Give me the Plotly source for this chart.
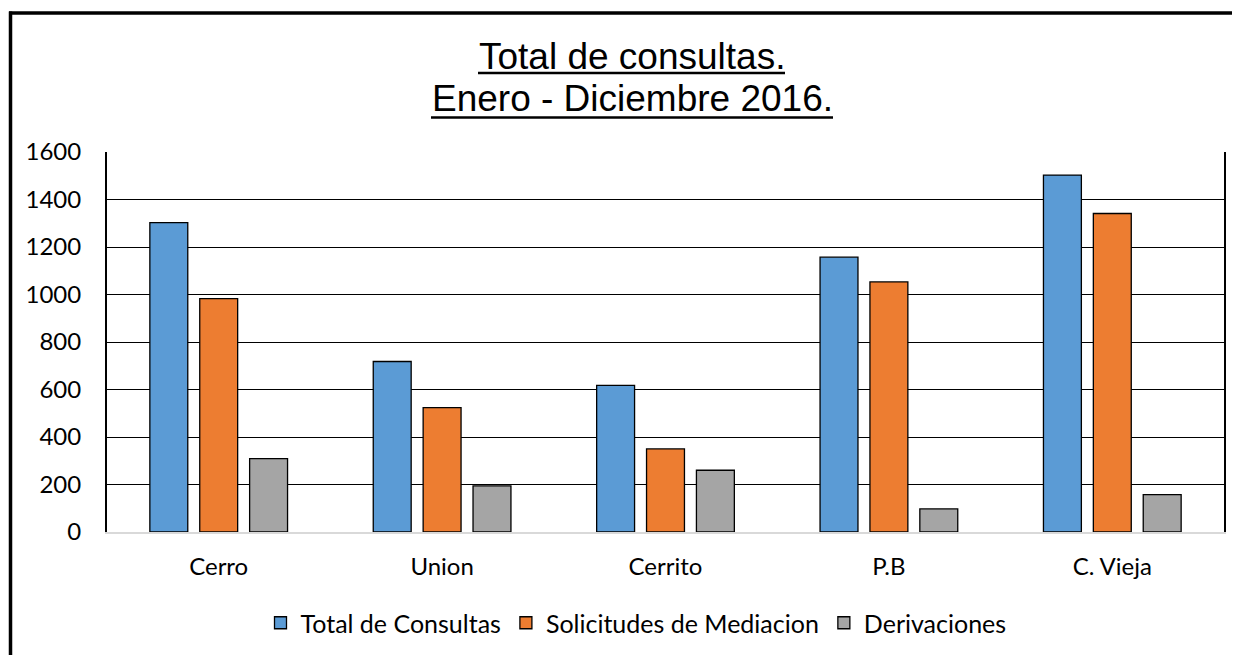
import plotly.graph_objects as go

categories = ["Cerro", "Union", "Cerrito", "P.B", "C. Vieja"]
total_consultas = [1303, 718, 617, 1157, 1503]
solicitudes_mediacion = [983, 524, 350, 1053, 1341]
derivaciones = [309, 194, 260, 97, 157]
y_ticks = [0, 200, 400, 600, 800, 1000, 1200, 1400, 1600]

series = [
    ("Total de Consultas", total_consultas, "#5B9BD5"),
    ("Solicitudes de Mediacion", solicitudes_mediacion, "#ED7D31"),
    ("Derivaciones", derivaciones, "#A5A5A5"),
]

fig = go.Figure()
for name, vals, color in series:
    fig.add_trace(go.Bar(
        x=categories, y=vals, name=name,
        marker=dict(color=color, line=dict(color="black", width=1.3)),
    ))

# page offset of the figure (body margin) and plot area in page pixels
OFF = 8
FW, FH = 1240 - OFF, 655 - OFF
L, R, T, B = 107, 1224, 152, 532
W, H = R - L, B - T

def px(x):
    return (x - L) / W

def py(y):
    return (B - y) / H

fig.update_layout(
    width=FW, height=FH,
    margin=dict(l=L - OFF, r=1240 - R, t=T - OFF, b=655 - B, autoexpand=False),
    paper_bgcolor="white", plot_bgcolor="white",
    barmode="group", bargap=0.33, bargroupgap=0.24,
    font=dict(family="Lato", size=24, color="black"),
    showlegend=True,
    legend=dict(
        orientation="h",
        xref="container", yref="container",
        x=(636 - OFF) / FW, xanchor="center",
        y=1 - (623 - OFF) / FH, yanchor="middle",
        font=dict(family="Lato", size=25, color="black"),
        itemwidth=30, tracegroupgap=0,
    ),
    xaxis=dict(
        showline=True, linecolor="#D9D9D9", linewidth=1.5,
        showgrid=False, ticks="", ticklabelstandoff=12,
        tickfont=dict(family="Lato", size=24),
    ),
    yaxis=dict(
        range=[0, 1600], tickvals=y_ticks,
        showgrid=True, gridcolor="black", gridwidth=1.4,
        showline=True, linecolor="black", linewidth=2, mirror=True,
        ticks="", ticklabelstandoff=19, zeroline=False,
        tickfont=dict(family="Lato", size=24),
    ),
    annotations=[
        dict(text="Total de consultas.", x=px(631.5), y=py(56), xref="paper", yref="paper",
             xanchor="center", yanchor="middle", showarrow=False,
             font=dict(family="Liberation Sans", size=37, color="black")),
        dict(text="Enero - Diciembre 2016.", x=px(632), y=py(99), xref="paper", yref="paper",
             xanchor="center", yanchor="middle", showarrow=False,
             font=dict(family="Liberation Sans", size=37, color="black")),
    ],
    shapes=[
        # title underlines
        dict(type="line", xref="paper", yref="paper", x0=px(478), x1=px(785), y0=py(73), y1=py(73),
             line=dict(color="black", width=2.5)),
        dict(type="line", xref="paper", yref="paper", x0=px(431), x1=px(833), y0=py(117.5), y1=py(117.5),
             line=dict(color="black", width=2.5)),
        # outer frame (left and top)
        dict(type="line", xref="paper", yref="paper", x0=px(10.5), x1=px(10.5), y0=py(11.5), y1=py(700),
             line=dict(color="black", width=3.5)),
        dict(type="line", xref="paper", yref="paper", x0=px(9), x1=px(1260), y0=py(13), y1=py(13),
             line=dict(color="black", width=3.5)),
    ],
)

fig.write_html("out.html")
